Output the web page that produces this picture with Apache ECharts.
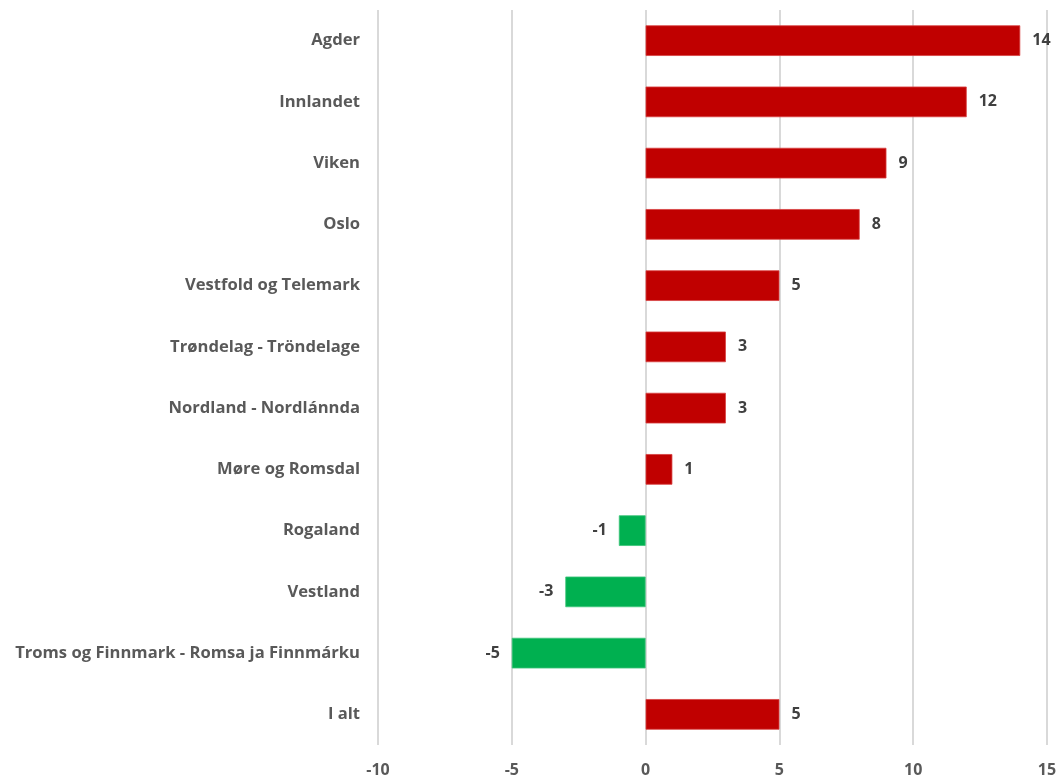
<!DOCTYPE html>
<html><head><meta charset="utf-8">
<script src="https://cdn.jsdelivr.net/npm/echarts@6/dist/echarts.min.js"></script>
<style>html,body{margin:0;padding:0;background:#fff}#c{width:1061px;height:782px}</style>
</head><body><div id="c"></div>
<script>
const categories = ["Agder","Innlandet","Viken","Oslo","Vestfold og Telemark","Trøndelag - Tröndelage","Nordland - Nordlánnda","Møre og Romsdal","Rogaland","Vestland","Troms og Finnmark - Romsa ja Finnmárku","I alt"];
const values = [14,12,9,8,5,3,3,1,-1,-3,-5,5];
const xTicks = {min:-10,max:15,interval:5};
const POS = '#C00000', NEG = '#00B050';
const font = '"Open Sans", "Liberation Sans", sans-serif';
const chart = echarts.init(document.getElementById('c'), null, {renderer:'canvas'});
chart.setOption({
  animation:false,
  grid:{left:378,right:14,top:10,bottom:37,containLabel:false},
  xAxis:{type:'value',min:xTicks.min,max:xTicks.max,interval:xTicks.interval,
    axisLine:{show:false},axisTick:{show:false},
    splitLine:{lineStyle:{color:'#d9d9d9',width:2}},
    axisLabel:{color:'#595959',fontSize:16,fontWeight:'bold',fontFamily:font,margin:17}},
  yAxis:{type:'category',data:categories,inverse:true,
    axisLine:{show:false},axisTick:{show:false},
    axisLabel:{color:'#595959',fontSize:16.6,fontWeight:'bold',fontFamily:font,margin:18}},
  series:[{type:'bar',barWidth:'50%',
    data:values.map(v=>({value:v,
      itemStyle:{color:v<0?NEG:POS,borderColor:v<0?'#3cc47a':'#d84040',borderWidth:0.8},
      label:{show:true,position:v<0?'left':'right',distance:12}})),
    label:{color:'#404040',fontSize:16,fontWeight:'bold',fontFamily:font}}]
});
</script></body></html>
